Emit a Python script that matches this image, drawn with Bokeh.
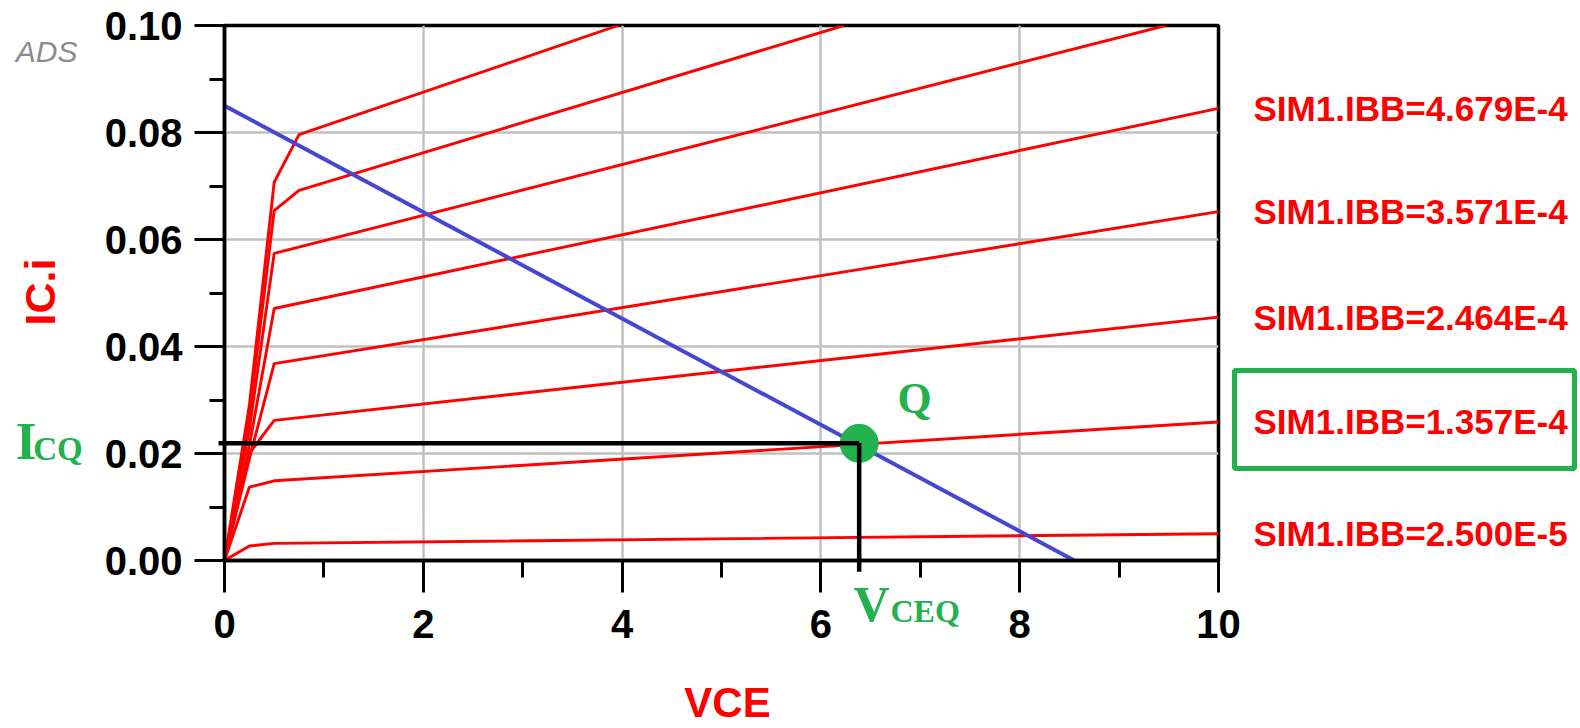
import math
from bokeh.plotting import figure
from bokeh.layouts import column
from bokeh.models import Range1d, FixedTicker, NumeralTickFormatter, Label
from bokeh.core.properties import value
from bokeh.embed import file_html
from bokeh.resources import INLINE

# ---- data ----
# IC (A) versus VCE (V) traces for the IBB sweep
vce_c0 = [0, 0.25, 0.5, 10]
ic_c0 = [0, 0.0027, 0.0032, 0.0050]
vce_c1 = [0, 0.25, 0.5, 10]
ic_c1 = [0, 0.0137, 0.0149, 0.0259]
vce_c2 = [0, 0.25, 0.5, 10]
ic_c2 = [0, 0.0200, 0.0262, 0.0455]
vce_c3 = [0, 0.25, 0.5, 10]
ic_c3 = [0, 0.0190, 0.0368, 0.0652]
vce_c4 = [0, 0.25, 0.5, 10]
ic_c4 = [0, 0.0215, 0.0471, 0.0845]
vce_c5 = [0, 0.25, 0.5, 9.47]
ic_c5 = [0, 0.0245, 0.0574, 0.100]
vce_c6 = [0, 0.25, 0.5, 0.75, 6.23]
ic_c6 = [0, 0.027, 0.0654, 0.0692, 0.100]
vce_c7 = [0, 0.25, 0.5, 0.75, 3.96]
ic_c7 = [0, 0.029, 0.0707, 0.0796, 0.100]

curve_vce = [vce_c0, vce_c1, vce_c2, vce_c3, vce_c4, vce_c5, vce_c6, vce_c7]
curve_ic = [ic_c0, ic_c1, ic_c2, ic_c3, ic_c4, ic_c5, ic_c6, ic_c7]

ibb_labels = ["SIM1.IBB=4.679E-4", "SIM1.IBB=3.571E-4", "SIM1.IBB=2.464E-4",
              "SIM1.IBB=1.357E-4", "SIM1.IBB=2.500E-5"]
ibb_label_curve = [4, 3, 2, 1, 0]
highlighted_label = "SIM1.IBB=1.357E-4"

# DC load line
load_vce = [0, 8.55]
load_ic = [0.085, 0.0]

# Q point
vce_q = 6.385
ic_q = 0.0219

x_ticks = [0, 2, 4, 6, 8, 10]
x_minor = [1, 3, 5, 7, 9]
y_ticks = [0.0, 0.02, 0.04, 0.06, 0.08, 0.10]
y_minor = [0.01, 0.03, 0.05, 0.07, 0.09]

# ---- layout constants ----
SANS = "Liberation Sans"
SERIF = "Liberation Serif"
GREEN = "#22b14c"
W, H = 1580, 728
BL, BT = 224, 25
FW, FH = 994, 535
BR, BB = W - BL - FW, H - BT - FH
X0, X1, Y0, Y1 = 0, 10, 0.0, 0.1
PX_X = FW / (X1 - X0)
PX_Y = FH / (Y1 - Y0)

# ---- main figure ----
p = figure(width=W, height=H, x_range=Range1d(X0, X1), y_range=Range1d(Y0, Y1),
           output_backend="svg", toolbar_location=None, frame_align=False,
           min_border_left=BL, min_border_right=BR, min_border_top=BT, min_border_bottom=BB)
p.background_fill_color = "white"
p.border_fill_color = "white"
p.outline_line_color = "black"
p.outline_line_width = 3.5

p.xaxis.ticker = FixedTicker(ticks=x_ticks, minor_ticks=x_minor)
p.yaxis.ticker = FixedTicker(ticks=y_ticks, minor_ticks=y_minor)
p.xaxis.formatter = NumeralTickFormatter(format="0")
p.yaxis.formatter = NumeralTickFormatter(format="0.00")

for ax in (p.xaxis, p.yaxis):
    ax.axis_line_width = 3.5
    ax.axis_line_color = "black"
    ax.major_tick_line_width = 3
    ax.minor_tick_line_width = 3
    ax.major_tick_in = 0
    ax.minor_tick_in = 0
    ax.major_label_text_font = SANS
    ax.major_label_text_font_style = "bold"
    ax.major_label_text_font_size = "40px"
    ax.major_label_text_color = "black"
p.xaxis.major_tick_out = 32
p.xaxis.minor_tick_out = 17
p.yaxis.major_tick_out = 30
p.yaxis.minor_tick_out = 15
p.xaxis.major_label_standoff = 17
p.yaxis.major_label_standoff = 12

p.grid.grid_line_color = "#c0c0c0"
p.grid.grid_line_width = 2.5

for xs, ys in zip(curve_vce, curve_ic):
    p.line(xs, ys, line_color="#ff0000", line_width=2.9)

p.line(load_vce, load_ic, line_color="#4646d0", line_width=4)
p.scatter([vce_q], [ic_q], size=38, marker="circle", fill_color=GREEN, line_color=GREEN)

# ---- transparent overlay with the same data mapping, for marks outside the frame ----
o = figure(width=W, height=H,
           x_range=Range1d(X0 - BL / PX_X, X1 + BR / PX_X),
           y_range=Range1d(Y0 - BB / PX_Y, Y1 + BT / PX_Y),
           output_backend="svg", toolbar_location=None, frame_align=False,
           x_axis_location=None, y_axis_location=None,
           min_border=0, min_border_left=0, min_border_right=0,
           min_border_top=0, min_border_bottom=0,
           margin=(-H, 0, 0, 0))
o.background_fill_color = None
o.border_fill_color = None
o.outline_line_color = None
o.grid.visible = False

# Q projection lines
o.line([-0.06, vce_q], [ic_q, ic_q], line_color="black", line_width=4.5)
o.line([vce_q, vce_q], [ic_q, -0.0021], line_color="black", line_width=4.5)

# legend texts at trace ends
label_x = [curve_vce[i][-1] for i in ibb_label_curve]
label_y = [curve_ic[i][-1] for i in ibb_label_curve]
o.text(x=label_x, y=label_y, text=ibb_labels, x_offset=35, text_baseline="middle",
       text_align="left", text_font=value(SANS), text_font_style="bold",
       text_font_size="35px", text_color="#ff0000")
hi = ibb_labels.index(highlighted_label)
o.rect(x=[label_x[hi] + 186 / PX_X], y=[label_y[hi] + 2.5 / PX_Y], width=340, height=98,
       width_units="screen", height_units="screen", fill_color=None,
       line_color=GREEN, line_width=5)

# other texts (vertically centred on their capitals)
def lab(x, y, text, font, size, color, style="bold", align="left", angle=0.0):
    o.add_layout(Label(x=x, y=y, text=text, angle=angle, text_align=align,
                       text_baseline="middle", text_font=font, text_font_style=style,
                       text_font_size=size, text_color=color))

lab(-2.10, 0.09514, "ADS", SANS, "30px", "#8c8c8c", style="italic")
lab(-1.861, 0.0502, "IC.i", SANS, "43px", "#ff0000", align="center", angle=math.pi / 2)
lab(-2.10, 0.02234, "I", SERIF, "53px", GREEN)
lab(-1.925, 0.02093, "CQ", SERIF, "33px", GREEN)
lab(5.06, -0.0266, "VCE", SANS, "42px", "#ff0000", align="center")
lab(6.328, -0.00813, "V", SERIF, "50px", GREEN)
lab(6.700, -0.00953, "CEQ", SERIF, "32px", GREEN)
lab(6.771, 0.03037, "Q", SERIF, "44px", GREEN)

layout = column(p, o, spacing=0)
open("out.html", "w").write(file_html(layout, INLINE))
